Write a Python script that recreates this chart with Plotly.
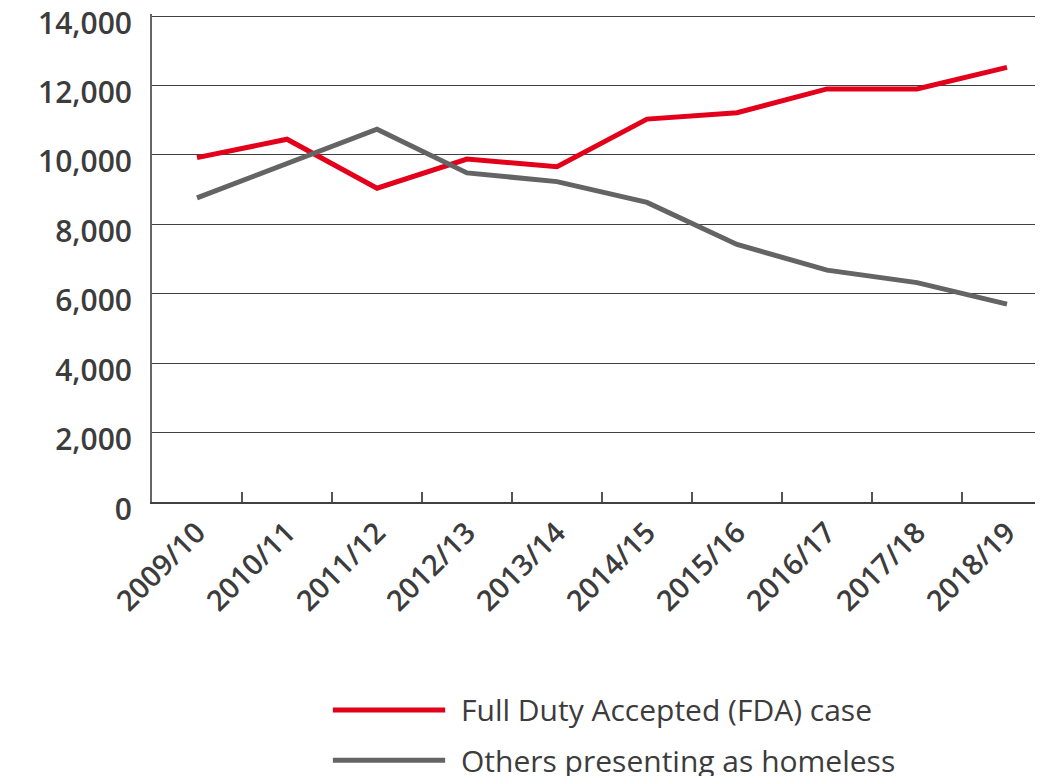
import plotly.graph_objects as go

years = ["2009/10", "2010/11", "2011/12", "2012/13", "2013/14",
         "2014/15", "2015/16", "2016/17", "2017/18", "2018/19"]
fda_cases = [9920, 10450, 9040, 9880, 9660, 11030, 11215, 11900, 11900, 12520]
others_homeless = [8760, 9740, 10740, 9480, 9230, 8630, 7420, 6680, 6320, 5700]
series_names = ["Full Duty Accepted (FDA) case", "Others presenting as homeless"]
series_colors = ["#E2001A", "#646464"]
y_ticks = [0, 2000, 4000, 6000, 8000, 10000, 12000, 14000]

FONT = "Open Sans"
TXT = "#3c3c3c"

fig = go.Figure()
for name, vals, col in zip(series_names, [fda_cases, others_homeless], series_colors):
    fig.add_trace(go.Scatter(x=years, y=vals, mode="lines", name=name,
                             line=dict(color=col, width=5), showlegend=False))

fig.update_layout(
    width=1035, height=768,
    margin=dict(l=144, r=0, t=6, b=274, autoexpand=False),
    plot_bgcolor="white", paper_bgcolor="white",
    font=dict(family=FONT, color=TXT),
)
fig.update_xaxes(
    type="category", range=[-0.5, 9.4], automargin=False,
    showgrid=False, showline=True, linecolor="#404040", linewidth=2,
    ticks="inside", tickson="boundaries", ticklen=10, tickcolor="#555555", tickwidth=1.5,
    tickangle=-45, tickfont=dict(size=29, family=FONT, color=TXT, weight=600),
)
fig.update_yaxes(
    range=[0, 14058], tickvals=y_ticks, tickformat=",", automargin=False,
    showgrid=True, gridcolor="#404040", gridwidth=1,
    showline=True, linecolor="#666666", linewidth=2,
    zeroline=False, ticks="", ticklabelstandoff=12, ticklabelshift=7,
    ticklabeloverflow="allow",
    tickfont=dict(size=30, family=FONT, color=TXT, weight=600),
)

# custom legend
legend_y = [-0.426, -0.529]
for name, col, ly in zip(series_names, series_colors, legend_y):
    fig.add_shape(type="line", xref="paper", yref="paper", x0=0.203, x1=0.329,
                  y0=ly, y1=ly, line=dict(color=col, width=5))
    fig.add_annotation(xref="paper", yref="paper", x=0.345, y=ly, text=name,
                       showarrow=False, xanchor="left", yanchor="middle",
                       font=dict(size=30, family=FONT, color=TXT, weight=500))

fig.write_html("out.html")
